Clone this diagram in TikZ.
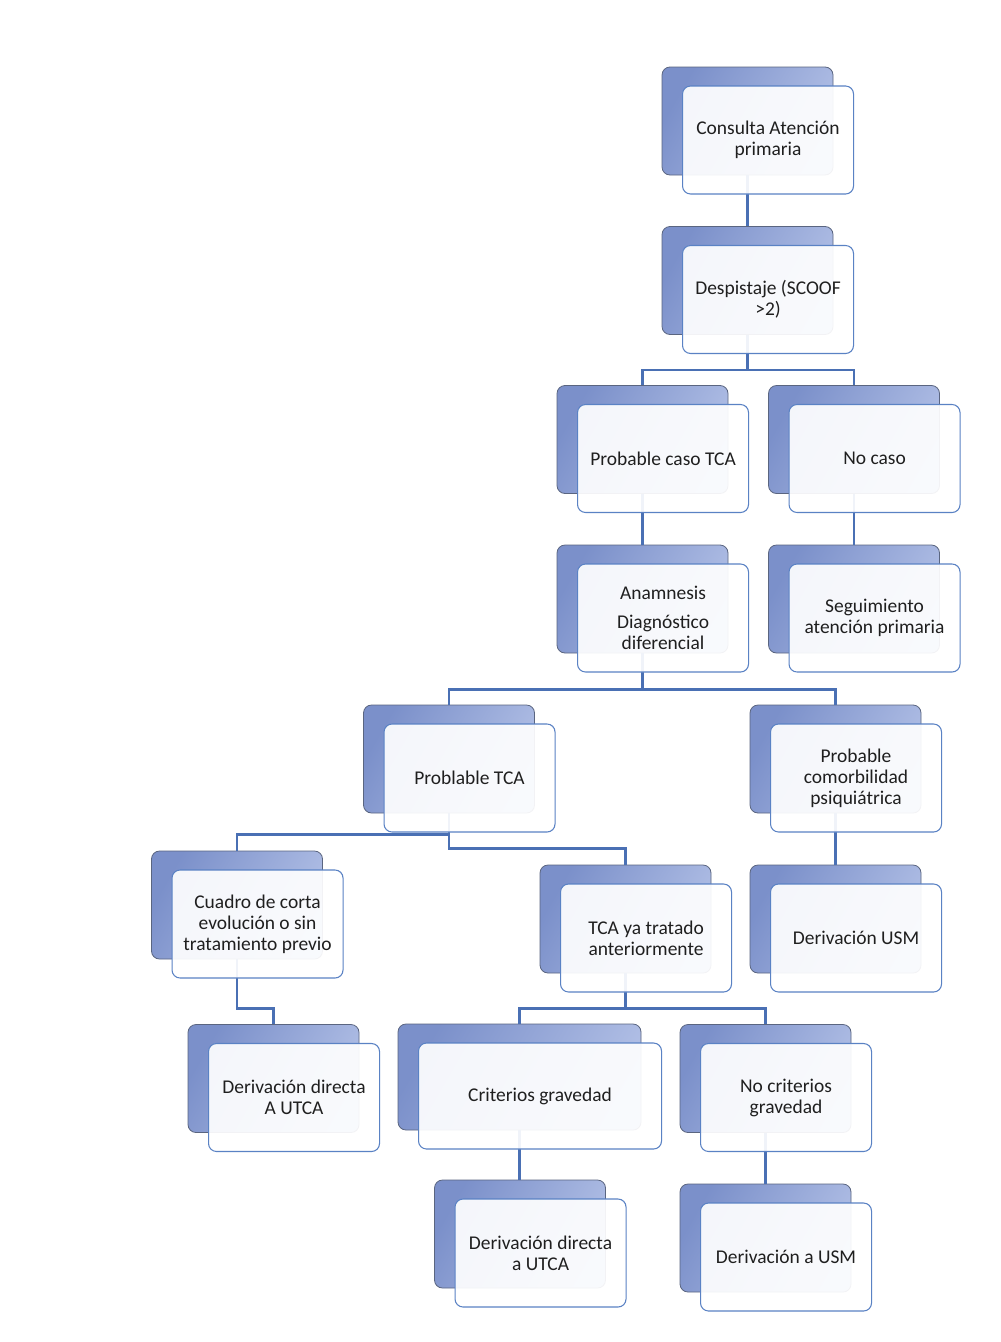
\documentclass[tikz,border=0pt]{standalone}
\usepackage{fontspec}
\setmainfont{Carlito}
\usepackage{tikz}
\usetikzlibrary{arrows}

\definecolor{linkblue}{HTML}{4A70B4}
\definecolor{boxdark}{HTML}{7B90CA}
\definecolor{boxlight}{HTML}{B2C0E6}
\definecolor{boxedge}{HTML}{5A6580}
\definecolor{frontedge}{HTML}{5A82C4}

\begin{document}
\begin{tikzpicture}[x=0.75pt,y=-0.75pt,
    back box/.style={rectangle,rounded corners=6pt,draw=boxedge,line width=0.6pt,
        left color=boxdark,right color=boxlight,shading angle=60,
        minimum width=128.25pt,minimum height=81pt,inner sep=0pt},
    front box/.style={rectangle,rounded corners=6pt,draw=frontedge,line width=0.8pt,
        fill=white,fill opacity=0.92,text opacity=1,text=black!88,
        minimum width=128.25pt,minimum height=81pt,inner sep=0pt,align=center,
        xshift=15.4pt,yshift=-14.25pt,font=\fontsize{14.6}{15.8}\selectfont},
    wide/.style={minimum width=182.25pt,minimum height=79.5pt},
    link/.style={draw=linkblue,line width=2pt}]

\fill[white] (0,0) rectangle (1000,1342);
\useasboundingbox (0,0) rectangle (1000,1342);

% back boxes
\node[back box] (b1) at (747.5,121) {};
\node[back box] (b2) at (747.5,280.5) {};
\node[back box] (b3) at (642.5,439.5) {};
\node[back box] (b4) at (854,439.5) {};
\node[back box] (b5) at (642.5,599) {};
\node[back box] (b6) at (854,599) {};
\node[back box] (b7) at (449,759) {};
\node[back box] (b8) at (835.5,759) {};
\node[back box] (b9) at (237,905) {};
\node[back box] (b10) at (625.5,919) {};
\node[back box] (b11) at (835.5,919) {};
\node[back box] (b12) at (273.5,1078.5) {};
\node[back box,wide] (b13) at (519.5,1077) {};
\node[back box] (b14) at (765.5,1078.5) {};
\node[back box] (b15) at (520,1234) {};
\node[back box] (b16) at (765.5,1238) {};

% connectors
\draw[link] (b1.south) -- (b2.north);
\draw[link] (b2.south) -- ++(0,35) -| (b3.north);
\draw[link] (b2.south) -- ++(0,35) -| (b4.north);
\draw[link] (b3.south) -- (b5.north);
\draw[link] (b4.south) -- (b6.north);
\draw[link] (b5.south) -- ++(0,36) -| (b7.north);
\draw[link] (b5.south) -- ++(0,36) -| (b8.north);
\draw[link] (b7.south) -- ++(0,21) -| (b9.north);
\draw[link] (b7.south) -- ++(0,35) -| (b10.north);
\draw[link] (b8.south) -- (b11.north);
\draw[link] (b9.south) -- ++(0,49) -| (b12.north);
\draw[link] (b10.south) -- ++(0,35) -| (b13.north);
\draw[link] (b10.south) -- ++(0,35) -| (b14.north);
\draw[link] (b13.south) -- (b13.south |- b15.north);
\draw[link] (b14.south) -- (b16.north);

% front boxes
\node[front box] (f1) at (b1) {Consulta Atención\\primaria};
\node[front box] (f2) at (b2) {Despistaje (SCOOF\\>2)};
\node[front box] (f3) at (b3) {Probable caso TCA};
\node[front box] (f4) at (b4) {No caso};
\node[front box] (f5) at (b5) {Anamnesis\\[6pt]Diagnóstico\\diferencial};
\node[front box] (f6) at (b6) {Seguimiento\\atención primaria};
\node[front box] (f7) at (b7) {Problable TCA};
\node[front box] (f8) at (b8) {Probable\\comorbilidad\\psiquiátrica};
\node[front box] (f9) at (b9) {Cuadro de corta\\evolución o sin\\tratamiento previo};
\node[front box] (f10) at (b10) {TCA ya tratado\\anteriormente};
\node[front box] (f11) at (b11) {Derivación USM};
\node[front box] (f12) at (b12) {Derivación directa\\A UTCA};
\node[front box,wide] (f13) at (b13) {Criterios gravedad};
\node[front box] (f14) at (b14) {No criterios\\gravedad};
\node[front box] (f15) at (b15) {Derivación directa\\a UTCA};
\node[front box] (f16) at (b16) {Derivación a USM};
\end{tikzpicture}
\end{document}
